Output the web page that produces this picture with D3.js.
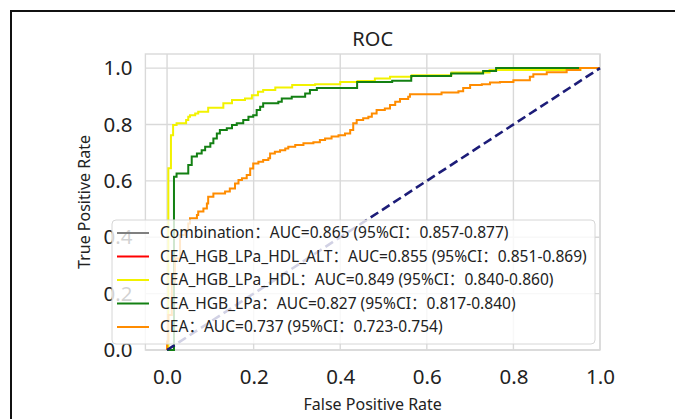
<!DOCTYPE html>
<html>
<head>
<meta charset="utf-8">
<script src="https://cdn.jsdelivr.net/npm/d3@7"></script>
<style>
  body { margin: 0; background: #fff; }
  text { font-family: "Noto Sans", "Noto Sans CJK SC", sans-serif; fill: #222; }
</style>
</head>
<body>
<svg id="chart" width="675" height="419"></svg>
<script>
// ROC points, stored as (fpr where the step happens, tpr after the step)
const hdlFpr = [0, 0.003, 0.009, 0.014, 0.022, 0.044, 0.049, 0.053, 0.065, 0.072, 0.095, 0.13, 0.15, 0.18, 0.196, 0.21, 0.222, 0.25, 0.289, 0.342, 0.4, 0.44, 0.48, 0.515, 0.565, 0.657, 0.745, 0.955, 1];
const hdlTpr = [0, 0.645, 0.762, 0.798, 0.804, 0.816, 0.827, 0.833, 0.839, 0.845, 0.859, 0.875, 0.887, 0.892, 0.904, 0.916, 0.922, 0.931, 0.94, 0.943, 0.951, 0.954, 0.963, 0.969, 0.975, 0.984, 0.993, 1, 1];

const lpaFpr = [0, 0.016, 0.022, 0.049, 0.057, 0.069, 0.08, 0.088, 0.1, 0.107, 0.115, 0.122, 0.138, 0.15, 0.161, 0.176, 0.188, 0.199, 0.207, 0.215, 0.222, 0.257, 0.265, 0.288, 0.319, 0.33, 0.346, 0.439, 0.52, 0.564, 0.656, 0.73, 0.76, 1];
const lpaTpr = [0, 0.615, 0.626, 0.656, 0.686, 0.697, 0.709, 0.721, 0.733, 0.75, 0.768, 0.78, 0.787, 0.798, 0.804, 0.816, 0.827, 0.833, 0.851, 0.863, 0.875, 0.881, 0.892, 0.898, 0.91, 0.922, 0.929, 0.951, 0.955, 0.972, 0.981, 0.99, 1, 1];

const ceaFpr = [0, 0, 0.003, 0.011, 0.018, 0.03, 0.042, 0.049, 0.053, 0.069, 0.072, 0.084, 0.092, 0.095, 0.107, 0.134, 0.145, 0.157, 0.165, 0.173, 0.184, 0.192, 0.199, 0.211, 0.222, 0.234, 0.238, 0.249, 0.261, 0.273, 0.28, 0.296, 0.315, 0.338, 0.353, 0.365, 0.38, 0.396, 0.411, 0.423, 0.43, 0.438, 0.453, 0.465, 0.473, 0.484, 0.503, 0.515, 0.527, 0.538, 0.557, 0.561, 0.634, 0.673, 0.684, 0.7, 0.727, 0.746, 0.769, 0.8, 0.838, 0.846, 0.877, 0.923, 0.954, 1];
const ceaTpr = [0, 0.03, 0.124, 0.242, 0.325, 0.408, 0.426, 0.449, 0.467, 0.479, 0.491, 0.502, 0.52, 0.544, 0.555, 0.562, 0.573, 0.591, 0.603, 0.609, 0.621, 0.644, 0.662, 0.668, 0.674, 0.68, 0.697, 0.703, 0.709, 0.715, 0.721, 0.727, 0.733, 0.737, 0.745, 0.75, 0.757, 0.762, 0.768, 0.78, 0.804, 0.816, 0.822, 0.827, 0.839, 0.851, 0.857, 0.869, 0.881, 0.89, 0.898, 0.907, 0.913, 0.918, 0.929, 0.94, 0.943, 0.949, 0.951, 0.957, 0.969, 0.978, 0.985, 0.993, 1, 1];

const legendNames = ["Combination", "CEA_HGB_LPa_HDL_ALT", "CEA_HGB_LPa_HDL", "CEA_HGB_LPa", "CEA"];
const legendAuc = ["0.865", "0.855", "0.849", "0.827", "0.737"];
const legendCi = ["0.857-0.877", "0.851-0.869", "0.840-0.860", "0.817-0.840", "0.723-0.754"];
const legendColors = ["#808080", "#ff0000", "#f2f200", "#138013", "#ff8c00"];

const ticks = [0, 0.2, 0.4, 0.6, 0.8, 1.0];

const svg = d3.select("#chart");
const plot = { left: 145.4, right: 600, top: 54, bottom: 350 };

const x = d3.scaleLinear().domain([-0.05, 1.0]).range([plot.left, plot.right]);
const y = d3.scaleLinear().domain([0, 1.05]).range([plot.bottom, plot.top]);

// outer frame of the screenshot (top and left only)
svg.append("path").attr("d", "M11,419V11H675")
  .attr("fill", "none").attr("stroke", "#111").attr("stroke-width", 2);

// grid
const grid = svg.append("g");
grid.selectAll(".gx").data(ticks).enter().append("line")
  .attr("x1", d => x(d)).attr("x2", d => x(d))
  .attr("y1", plot.top).attr("y2", plot.bottom)
  .attr("stroke", "#d9d9d9").attr("stroke-width", 1.4);
grid.selectAll(".gy").data(ticks).enter().append("line")
  .attr("y1", d => y(d)).attr("y2", d => y(d))
  .attr("x1", plot.left).attr("x2", plot.right)
  .attr("stroke", "#d9d9d9").attr("stroke-width", 1.4);
svg.append("rect")
  .attr("x", plot.left).attr("y", plot.top)
  .attr("width", plot.right - plot.left).attr("height", plot.bottom - plot.top)
  .attr("fill", "none").attr("stroke", "#d9d9d9").attr("stroke-width", 1.4);

// axes, only labels are drawn (no tick marks)
const xAxis = svg.append("g").attr("transform", `translate(0,${plot.bottom})`)
  .call(d3.axisBottom(x).tickValues(ticks).tickFormat(d3.format(".1f")).tickSize(0).tickPadding(19));
const yAxis = svg.append("g").attr("transform", `translate(${plot.left},0)`)
  .call(d3.axisLeft(y).tickValues(ticks).tickFormat(d3.format(".1f")).tickSize(0).tickPadding(13));
[xAxis, yAxis].forEach(a => {
  a.select(".domain").remove();
  a.selectAll("text").attr("font-size", 20.5).attr("font-family", null).attr("fill", "#222");
});
xAxis.selectAll("text").attr("dy", "0.72em");

// curves
const line = d3.line().x(d => x(d[0])).y(d => y(d[1])).curve(d3.curveStepAfter);
const series = [
  { fpr: hdlFpr, tpr: hdlTpr, color: legendColors[2] },
  { fpr: lpaFpr, tpr: lpaTpr, color: legendColors[3] },
  { fpr: ceaFpr, tpr: ceaTpr, color: legendColors[4] }
];
series.forEach(s => {
  svg.append("path")
    .datum(s.fpr.map((f, i) => [f, s.tpr[i]]))
    .attr("d", line)
    .attr("fill", "none").attr("stroke", s.color).attr("stroke-width", 2);
});

// chance line
svg.append("path")
  .datum([[0, 0], [1, 1]])
  .attr("d", d3.line().x(d => x(d[0])).y(d => y(d[1])))
  .attr("stroke", "#1c1c78").attr("stroke-width", 2.6)
  .attr("stroke-dasharray", "9,4.5").attr("fill", "none");

// titles
svg.append("text").attr("x", (plot.left + plot.right) / 2).attr("y", 46)
  .attr("text-anchor", "middle").attr("font-size", 20).text("ROC");
svg.append("text").attr("x", (plot.left + plot.right) / 2).attr("y", 410)
  .attr("text-anchor", "middle").attr("font-size", 16).text("False Positive Rate");
svg.append("text")
  .attr("transform", `translate(90,${(plot.top + plot.bottom) / 2}) rotate(-90)`)
  .attr("text-anchor", "middle").attr("font-size", 16).text("True Positive Rate");

// legend
const legend = svg.append("g");
legend.append("rect")
  .attr("x", 112).attr("y", 220).attr("width", 483).attr("height", 124).attr("rx", 4)
  .attr("fill", "#fff").attr("fill-opacity", 0.8)
  .attr("stroke", "#d6d6d6").attr("stroke-width", 1);
const rows = legend.selectAll(".row").data(legendNames).enter().append("g")
  .attr("transform", (d, i) => `translate(0,${233 + i * 23.5})`);
rows.append("line").attr("x1", 117).attr("x2", 149)
  .attr("stroke", (d, i) => legendColors[i]).attr("stroke-width", 2);
const labels = rows.append("text").attr("x", 160).attr("dy", "0.35em").attr("font-size", 15)
  .text((d, i) => `${d}：AUC=${legendAuc[i]} (95%CI：${legendCi[i]})`);
// size the legend font so the longest entry spans the same width as the picture
const widest = d3.max(labels.nodes(), n => n.getComputedTextLength());
labels.attr("font-size", 15 * 427 / widest);
</script>
</body>
</html>
